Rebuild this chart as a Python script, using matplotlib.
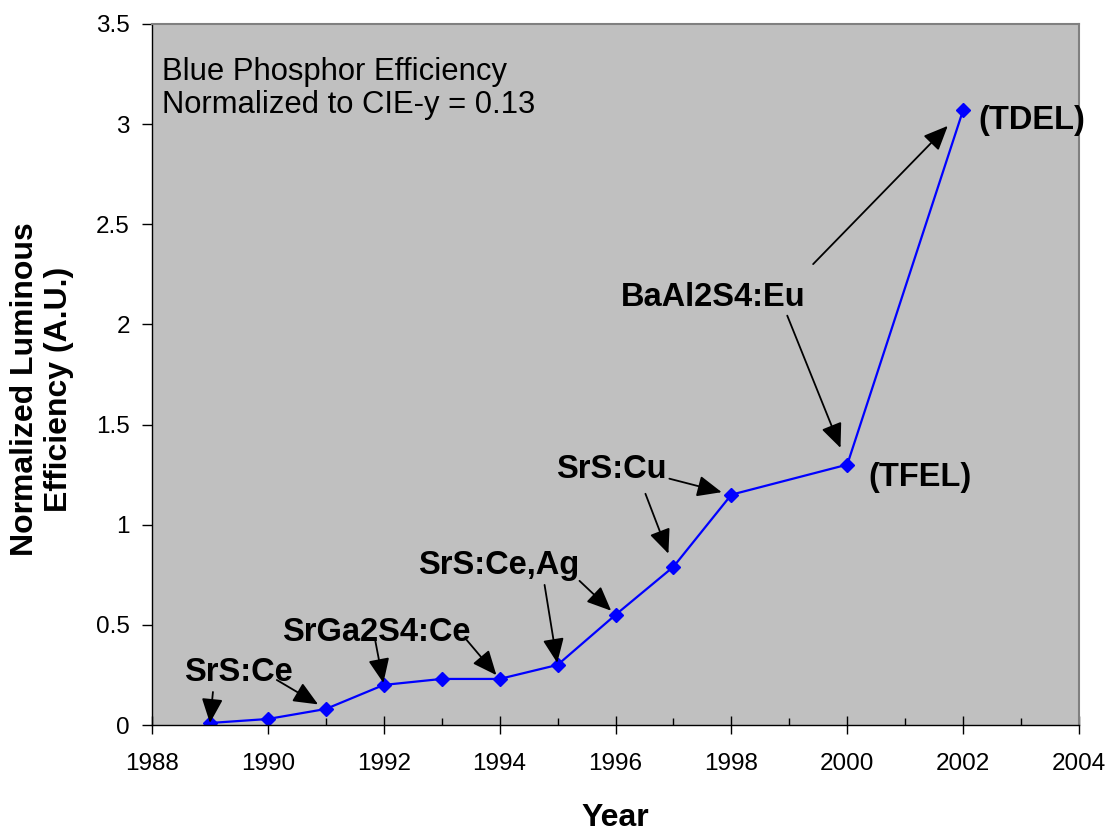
import matplotlib
matplotlib.use('Agg')
import matplotlib.pyplot as plt

# data
years = [1989, 1990, 1991, 1992, 1993, 1994, 1995, 1996, 1997, 1998, 2000, 2002]
efficiency = [0.01, 0.03, 0.08, 0.20, 0.23, 0.23, 0.30, 0.55, 0.79, 1.15, 1.30, 3.07]

# phosphor labels: text, position (data coords)
labels = ['SrS:Ce', 'SrGa2S4:Ce', 'SrS:Ce,Ag', 'SrS:Cu', 'BaAl2S4:Eu', '(TFEL)', '(TDEL)']
label_x = [1989.50, 1991.87, 1993.99, 1995.93, 1997.68, 2001.25, 2003.19]
label_y = [0.26, 0.464, 0.794, 1.278, 2.132, 1.238, 3.02]

# arrows: target year, tail offset from point (pixels, y up), gap at tip (pixels)
arrow_year = [1989, 1991, 1992, 1994, 1995, 1996, 1997, 1998, 2000, 2002]
arrow_dx = [3, -49, -9, -33, -13, -36, -28, -62, -60, -150]
arrow_dy = [31, 29, 47, 39, 80, 34, 73, 16, 149, -154]
arrow_gap = [0, 9, 2, 5, 2, 6, 14, 10, 18, 22]

plt.rcParams['font.family'] = ['Liberation Sans', 'DejaVu Sans']

fig = plt.figure(figsize=(11.08, 8.31), dpi=100)
ax = fig.add_axes([152/1108, 1-725/831, 927/1108, 701/831])
ax.set_facecolor('#C0C0C0')

ax.plot(years, efficiency, color='#0000FF', lw=1.6, marker='D', markersize=7,
        markerfacecolor='#0000FF', markeredgecolor='#0000FF')

ax.set_xlim(1988, 2004)
ax.set_ylim(0, 3.5)
ax.set_xticks(range(1988, 2005, 2))
ax.set_xticks(range(1989, 2004, 2), minor=True)
ax.set_yticks([0, 0.5, 1, 1.5, 2, 2.5, 3, 3.5])
ax.set_yticklabels(['0', '0.5', '1', '1.5', '2', '2.5', '3', '3.5'])
ax.tick_params(axis='x', which='major', direction='inout', length=13, width=1, labelsize=17.5, pad=14)
ax.tick_params(axis='x', which='minor', direction='in', length=5, width=1)
ax.tick_params(axis='y', which='major', direction='out', length=7, width=1, labelsize=17.5, pad=9)

for s in ['left', 'bottom']:
    ax.spines[s].set_color('black')
    ax.spines[s].set_linewidth(1.0)
for s in ['top', 'right']:
    ax.spines[s].set_color('#808080')
    ax.spines[s].set_linewidth(1.5)

ax.text(0.011, 0.953, 'Blue Phosphor Efficiency\nNormalized to CIE-y = 0.13',
        transform=ax.transAxes, ha='left', va='top', fontsize=22.3, linespacing=1.15)

for t, x, y in zip(labels, label_x, label_y):
    ax.text(x, y, t, ha='center', va='center', fontsize=23.5, fontweight='bold', clip_on=False)

for yr, dx, dy, gap in zip(arrow_year, arrow_dx, arrow_dy, arrow_gap):
    v = efficiency[years.index(yr)]
    ax.annotate('', xy=(yr, v), xytext=(dx, dy), textcoords='offset pixels',
                arrowprops=dict(arrowstyle='-|>,head_length=0.6,head_width=0.26',
                                mutation_scale=25, lw=1.3, color='black',
                                shrinkA=0, shrinkB=gap * 0.72))

fig.text(42/1108, 1-389/831, 'Normalized Luminous\nEfficiency (A.U.)', rotation=90,
         ha='center', va='center', fontsize=23, fontweight='bold', linespacing=1.2)
fig.text(615/1108, 1-818/831, 'Year', ha='center', va='center', fontsize=23, fontweight='bold')

fig.savefig('out.png', dpi=100)
